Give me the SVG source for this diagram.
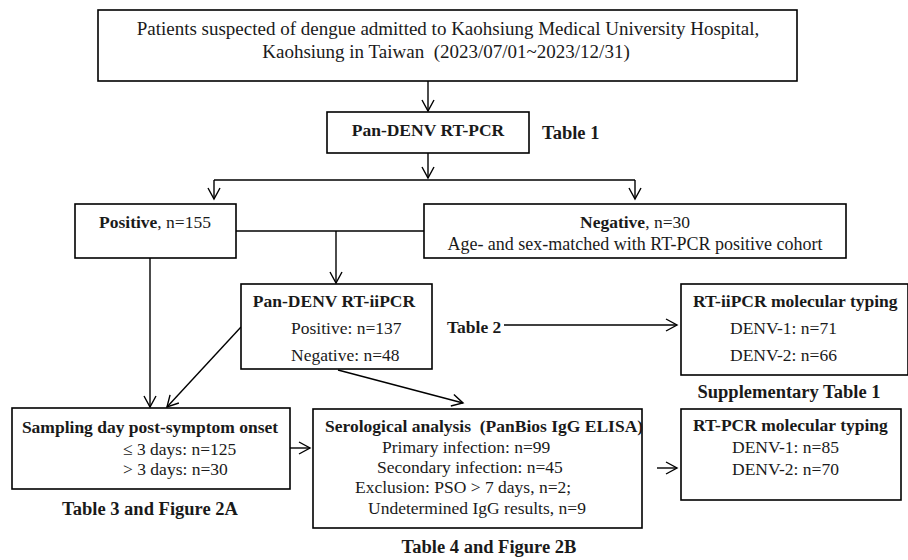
<svg xmlns="http://www.w3.org/2000/svg" width="908" height="560" viewBox="0 0 908 560">
<defs>
<marker id="ah" markerUnits="userSpaceOnUse" markerWidth="16" markerHeight="16" refX="12" refY="7" orient="auto" overflow="visible">
<path d="M1,1 L12,7 L1,13" fill="none" stroke="#000" stroke-width="1.4"/>
</marker>
</defs>
<style>
rect{fill:#fff;stroke:#000;stroke-width:1.6}
text{font-family:"Liberation Serif","Times New Roman",serif;font-size:17.5px;fill:#1a1a1a}
.b{font-weight:bold}
.c{text-anchor:middle}
.t{font-size:19px}
.l{font-size:18.5px}
#connectors line{fill:none;stroke:#000;stroke-width:1.4}
.a{marker-end:url(#ah)}
</style>
<rect x="0" y="0" width="908" height="560" style="fill:#fff;stroke:none"/>
<g id="connectors">
<line class="a" x1="428" y1="81" x2="428" y2="111"/>
<line class="a" x1="428" y1="153" x2="428" y2="178"/>
<line x1="214" y1="180" x2="635" y2="180"/>
<line class="a" x1="214" y1="180" x2="214" y2="199"/>
<line class="a" x1="635" y1="180" x2="635" y2="199"/>
<line x1="236" y1="231" x2="424" y2="231"/>
<line class="a" x1="336" y1="231" x2="336" y2="283"/>
<line class="a" x1="150" y1="258" x2="150" y2="407"/>
<line class="a" x1="241" y1="327" x2="167" y2="407"/>
<line class="a" x1="338" y1="370" x2="463" y2="403"/>
<line class="a" x1="504" y1="325" x2="677" y2="325"/>
<line class="a" x1="290" y1="448" x2="310" y2="448"/>
<line class="a" x1="657" y1="468" x2="677" y2="468"/>
</g>
<g id="n-top">
<rect x="98" y="10" width="699" height="71"/>
<text class="c t" x="448" y="35">Patients suspected of dengue admitted to Kaohsiung Medical University Hospital,</text>
<text class="c t" x="446" y="58" xml:space="preserve">Kaohsiung in Taiwan  (2023/07/01~2023/12/31)</text>
</g>
<g id="n-rtpcr">
<rect x="327" y="112" width="202" height="41"/>
<text class="c b" x="428" y="136">Pan-DENV RT-PCR</text>
</g>
<g id="l-table1"><text class="b l" x="542" y="139">Table 1</text></g>
<g id="n-positive">
<rect x="75" y="204" width="161" height="54"/>
<text class="c" x="155" y="228"><tspan class="b">Positive</tspan>, n=155</text>
</g>
<g id="n-negative">
<rect x="424" y="204" width="422" height="54"/>
<text class="c" x="635" y="228"><tspan class="b">Negative</tspan>, n=30</text>
<text class="c" x="635" y="250" style="font-size:18px">Age- and sex-matched with RT-PCR positive cohort</text>
</g>
<g id="n-iipcr">
<rect x="241" y="284" width="191" height="85"/>
<text class="c b" x="334" y="307">Pan-DENV RT-iiPCR</text>
<text x="291" y="334">Positive: n=137</text>
<text x="291" y="361">Negative: n=48</text>
</g>
<g id="l-table2"><text class="b" x="447" y="333">Table 2</text></g>
<g id="n-iitype">
<rect x="681" y="284" width="227" height="91"/>
<text class="b" x="693" y="307">RT-iiPCR molecular typing</text>
<text x="730" y="334">DENV-1: n=71</text>
<text x="730" y="361">DENV-2: n=66</text>
</g>
<g id="l-supp"><text class="c b l" x="789" y="398">Supplementary Table 1</text></g>
<g id="n-sampling">
<rect x="12" y="408" width="278" height="81"/>
<text class="c b" x="150" y="433">Sampling day post-symptom onset</text>
<text x="123" y="455">≤ 3 days: n=125</text>
<text x="123" y="475">&gt; 3 days: n=30</text>
</g>
<g id="l-table3"><text class="c b l" x="150" y="515">Table 3 and Figure 2A</text></g>
<g id="n-sero">
<rect x="313" y="409" width="329" height="119"/>
<text class="b" x="325" y="432" xml:space="preserve">Serological analysis  (PanBios IgG ELISA)</text>
<text x="382" y="453">Primary infection: n=99</text>
<text x="377" y="473">Secondary infection: n=45</text>
<text x="355" y="493">Exclusion: PSO &gt; 7 days, n=2;</text>
<text x="368" y="514">Undetermined IgG results, n=9</text>
</g>
<g id="l-table4"><text class="c b l" x="489" y="553">Table 4 and Figure 2B</text></g>
<g id="n-pcrtype">
<rect x="681" y="409" width="220" height="91"/>
<text class="b" x="693" y="431">RT-PCR molecular typing</text>
<text x="732" y="453">DENV-1: n=85</text>
<text x="732" y="475">DENV-2: n=70</text>
</g>
</svg>
